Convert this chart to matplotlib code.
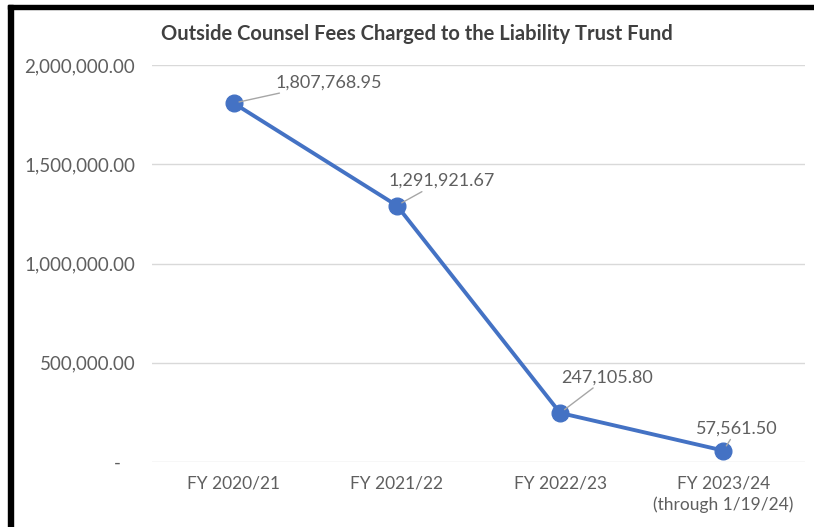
import matplotlib.pyplot as plt
from matplotlib.patches import Rectangle
from matplotlib.ticker import FuncFormatter

# Data
categories = ['FY 2020/21', 'FY 2021/22', 'FY 2022/23', 'FY 2023/24\n(through 1/19/24)']
fees = [1807768.95, 1291921.67, 247105.80, 57561.50]
label_text = ['1,807,768.95', '1,291,921.67', '247,105.80', '57,561.50']

plt.rcParams['font.family'] = ['Lato', 'DejaVu Sans']
grey = '#5f5f5f'

fig = plt.figure(figsize=(8.14, 5.27), dpi=100)
ax = fig.add_axes([152 / 814, 1 - 462 / 527, 653 / 814, (462 - 65) / 527])

x = list(range(len(categories)))
ax.plot(x, fees, color='#4472C4', linewidth=2.8, marker='o', markersize=12, zorder=3)

ax.set_xlim(-0.5, 3.5)
ax.set_ylim(0, 2000000)
ax.set_yticks([0, 500000, 1000000, 1500000, 2000000])
ax.yaxis.set_major_formatter(FuncFormatter(lambda v, p: '-   ' if v == 0 else f'{v:,.2f}'))
ax.set_xticks(x)
ax.set_xticklabels(categories, linespacing=1.3)
ax.tick_params(axis='both', length=0, colors=grey)
ax.tick_params(axis='y', pad=12, labelsize=13.5)
ax.tick_params(axis='x', pad=10, labelsize=12.5)
ax.grid(axis='y', color='#D9D9D9', linewidth=1)
ax.set_axisbelow(True)
for s in ax.spines.values():
    s.set_visible(False)

# data labels with leader lines (offsets in points)
offsets = [(30, 15), (32, 12), (34, 20), (10, 10)]
aligns = [('left', 'center'), ('center', 'bottom'), ('center', 'bottom'), ('center', 'bottom')]
for xi, yi, txt, off, (ha, va) in zip(x, fees, label_text, offsets, aligns):
    ax.annotate(txt, (xi, yi), xytext=off, textcoords='offset points',
                ha=ha, va=va, fontsize=13, color=grey,
                arrowprops=dict(arrowstyle='-', color='#A6A6A6', lw=1,
                                shrinkA=0, shrinkB=4,
                                connectionstyle='arc3'))

fig.text(417 / 814, 1 - 34 / 527, 'Outside Counsel Fees Charged to the Liability Trust Fund',
         ha='center', va='center', fontsize=14.5, fontweight='bold', color='#404040')

# black frame along top and left edge
fig.patches.append(Rectangle((8 / 814, 0), 5 / 814, 1 - 5 / 527, transform=fig.transFigure,
                             color='black', zorder=10))
fig.patches.append(Rectangle((8 / 814, 1 - 9 / 527), 1 - 8 / 814, 4 / 527, transform=fig.transFigure,
                             color='black', zorder=10))

fig.savefig('out.png', dpi=100)
